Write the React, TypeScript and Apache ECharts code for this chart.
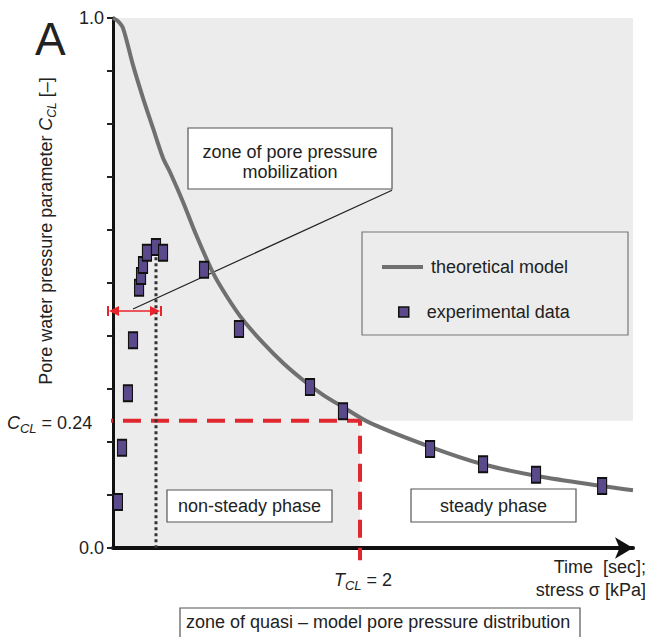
import React, { useEffect, useRef } from "react";
import * as echarts from "echarts";

// ---- data ----
const modelX = [0, 0.04, 0.081, 0.162, 0.243, 0.324, 0.405, 0.462, 0.567, 0.664, 0.81, 0.923, 1.053, 1.215, 1.377, 1.538, 1.7, 1.862, 2.081, 2.567, 2.996, 3.433, 3.96, 4.21];
const modelY = [1.0, 0.994, 0.981, 0.911, 0.849, 0.792, 0.736, 0.709, 0.653, 0.596, 0.519, 0.474, 0.43, 0.387, 0.349, 0.317, 0.289, 0.266, 0.236, 0.191, 0.158, 0.136, 0.117, 0.109];
const expX = [0.04, 0.073, 0.121, 0.162, 0.211, 0.227, 0.243, 0.275, 0.348, 0.405, 0.737, 1.02, 1.595, 1.862, 2.567, 2.996, 3.425, 3.96];
const expY = [0.087, 0.189, 0.292, 0.392, 0.491, 0.513, 0.534, 0.557, 0.568, 0.557, 0.525, 0.413, 0.304, 0.258, 0.187, 0.158, 0.138, 0.117];
const yTickLabels = ["0.0", "1.0"];
const cCL = 0.24;
const tCL = 2;
const xMax = 4.21;
const peakX = 0.348;
const peakY = 0.56;
const mobilArrowY = 0.447;
const leaderStart = [0.162, 0.451];
const leaderEnd = [2.259, 0.675];
const seriesNames = ["theoretical model", "experimental data"];

const FONT = "'Liberation Sans', Arial, Helvetica, sans-serif";
const TXT = "#222";
const FS = 18;

export default function App() {
  const ref = useRef<HTMLDivElement>(null);
  useEffect(() => {
    if (!ref.current) return;
    const chart = echarts.init(ref.current, null, { renderer: "svg" });
    const model = modelX.map((x, i) => [x, modelY[i]]);
    const exp = expX.map((x, i) => [x, expY[i]]);
    const box = (x: number, y: number, w: number, h: number, fill = "#fff") => ({
      type: "rect",
      z: 5,
      shape: { x, y, width: w, height: h },
      style: { fill, stroke: "#555", lineWidth: 1.2 },
    });
    const txt = (x: number, y: number, text: string, align = "center", size = FS, extra: any = {}) => ({
      type: "text",
      z: 6,
      x,
      y,
      style: { text, fontSize: size, fontFamily: FONT, fill: TXT, align, verticalAlign: "middle", ...extra },
    });
    const subRich = (size: number, sub: number) => ({
      n: { fontSize: size, fontFamily: FONT, fill: TXT, lineHeight: size + 6 },
      i: { fontSize: size, fontFamily: FONT, fill: TXT, fontStyle: "italic", lineHeight: size + 6 },
      s: { fontSize: sub, fontFamily: FONT, fill: TXT, fontStyle: "italic", verticalAlign: "bottom", lineHeight: size + 6 },
    });

    const option: any = {
      animation: false,
      backgroundColor: "#fff",
      grid: { left: 113, top: 18, width: 520, height: 530 },
      xAxis: {
        type: "value",
        min: 0,
        max: xMax,
        z: 1,
        axisLine: { show: true, symbol: ["none", "arrow"], symbolSize: [16, 18], lineStyle: { color: "#111", width: 4 } },
        axisTick: { show: false },
        axisLabel: { show: false },
        splitLine: { show: false },
      },
      yAxis: {
        type: "value",
        min: 0,
        max: 1,
        interval: 0.1,
        z: 1,
        axisLine: { show: true, lineStyle: { color: "#111", width: 3 } },
        axisTick: { show: true, length: 6, lineStyle: { color: "#222", width: 2 } },
        axisLabel: {
          margin: 9,
          fontSize: FS,
          fontFamily: FONT,
          color: TXT,
          formatter: (v: number) => (Math.abs(v) < 1e-9 ? yTickLabels[0] : Math.abs(v - 1) < 1e-9 ? yTickLabels[1] : ""),
        },
        splitLine: { show: false },
      },
      legend: [
        {
          data: [{ name: seriesNames[0], icon: "rect" }],
          left: 382,
          top: 258,
          padding: 0,
          itemWidth: 41,
          itemHeight: 4,
          z: 10,
          itemStyle: { color: "#707070" },
          textStyle: { fontSize: FS, fontFamily: FONT, color: TXT, padding: [0, 0, 0, 3] },
        },
        {
          data: [seriesNames[1]],
          left: 398,
          top: 303,
          padding: 0,
          itemWidth: 10,
          itemHeight: 10,
          z: 10,
          itemStyle: { borderColor: "#111", borderWidth: 1.5 },
          textStyle: { fontSize: FS, fontFamily: FONT, color: TXT, padding: [0, 0, 0, 13] },
        },
      ],
      series: [
        {
          name: "shade",
          type: "line",
          data: [],
          z: 0,
          silent: true,
          markArea: {
            silent: true,
            itemStyle: { color: "#ececec" },
            data: [
              [{ coord: [0, 1] }, { coord: [xMax, cCL] }],
              [{ coord: [0, cCL] }, { coord: [tCL, 0] }],
            ],
          },
        },
        {
          name: "threshold",
          type: "line",
          z: 3,
          clip: false,
          symbol: "none",
          silent: true,
          data: [[-0.146, cCL], [tCL, cCL], [tCL, -0.023]],
          lineStyle: { color: "#e0262e", width: 4, type: [18, 10] },
        },
        {
          name: "peak",
          type: "line",
          z: 3,
          symbol: "none",
          silent: true,
          data: [[peakX, peakY], [peakX, 0]],
          lineStyle: { color: "#333", width: 3, type: [3, 3] },
        },
        {
          name: "leader",
          type: "line",
          z: 3,
          symbol: "none",
          silent: true,
          data: [leaderStart, leaderEnd],
          lineStyle: { color: "#222", width: 1.2 },
          markLine: {
            silent: true,
            symbol: ["path://M0,0L12,0L12,2L0,2Z M6,2L12,12L0,12Z", "path://M0,0L12,0L12,2L0,2Z M6,2L12,12L0,12Z"],
            symbolSize: [10, 12],
            label: { show: false },
            lineStyle: { color: "#e8232b", width: 1.5, type: "solid" },
            data: [[{ coord: [0, mobilArrowY] }, { coord: [peakX, mobilArrowY] }]],
          },
        },
        {
          name: seriesNames[0],
          type: "line",
          z: 4,
          symbol: "none",
          smooth: 0.3,
          data: model,
          lineStyle: { color: "#707070", width: 4 },
          itemStyle: { color: "#707070" },
        },
        {
          name: seriesNames[1],
          type: "scatter",
          z: 5,
          symbol: "rect",
          symbolSize: [9, 16],
          data: exp,
          itemStyle: { color: "#5b4a8b", borderColor: "#111", borderWidth: 1.5, opacity: 1 },
        },
      ],
      graphic: [
        { type: "rect", z: 3, shape: { x: 362, y: 232, width: 266, height: 103 }, style: { fill: "#ececec", stroke: "#777", lineWidth: 1.2 } },
        box(188, 128, 204, 61),
        txt(290, 152, "zone of pore pressure"),
        txt(290, 172, "mobilization"),
        box(167, 490, 165, 32),
        txt(249.5, 506, "non-steady phase"),
        box(411, 489, 165, 33),
        txt(493.5, 506, "steady phase"),
        box(180, 608, 400, 40),
        txt(186, 622, "zone of quasi – model pore pressure distribution", "left"),
        txt(35, 39, "A", "left", 46),
        txt(646, 567, "Time  [sec];", "right"),
        txt(646, 590, "stress σ [kPa]", "right"),
        {
          type: "text",
          z: 6,
          x: 7,
          y: 423,
          style: { text: "{i|C}{s|CL}{n| = 0.24}", rich: subRich(FS, 13), align: "left", verticalAlign: "middle" },
        },
        {
          type: "text",
          z: 6,
          x: 334,
          y: 580,
          style: { text: "{i|T}{s|CL}{n| = 2}", rich: subRich(FS, 13), align: "left", verticalAlign: "middle" },
        },
        {
          type: "text",
          z: 6,
          x: 46,
          y: 231,
          rotation: Math.PI / 2,
          style: {
            text: "{n|Pore water pressure parameter }{i|C}{s|CL}{n| [–]}",
            rich: subRich(FS, 12),
            align: "center",
            verticalAlign: "middle",
          },
        },
      ],
    };
    chart.setOption(option);
    return () => chart.dispose();
  }, []);
  return <div ref={ref} style={{ position: "fixed", left: 0, top: 0, width: 645, height: 637 }} />;
}
